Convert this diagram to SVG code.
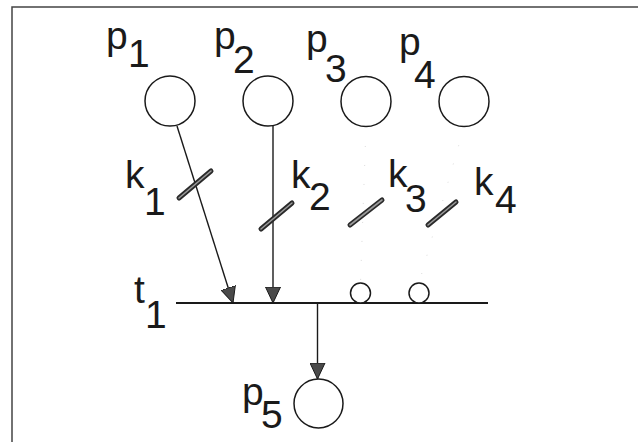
<svg xmlns="http://www.w3.org/2000/svg" width="638" height="442" viewBox="0 0 638 442">
  <style>
    .lbl { font-family: "Liberation Sans", Arial, sans-serif; font-size: 39px; fill: #1a1a1a; }
    .place { fill: #ffffff; stroke: #1a1a1a; stroke-width: 1.5; }
    .arc { stroke: #1a1a1a; stroke-width: 1.4; fill: none; }
    .faint { stroke: #dddddd; stroke-width: 1; fill: none; stroke-dasharray: 1 18; }
    .barO { stroke: #2a2a2a; stroke-width: 5; stroke-linecap: round; }
    .barI { stroke: #9a9a9a; stroke-width: 1.6; stroke-linecap: round; }
    .frame { stroke: #444; stroke-width: 1.5; fill: none; }
    .trans { stroke: #1a1a1a; stroke-width: 2.2; }
    .inh { fill: #ffffff; stroke: #1a1a1a; stroke-width: 1.5; }
  </style>
  <defs>
    <marker id="arrow" markerUnits="userSpaceOnUse" markerWidth="17" markerHeight="16" refX="16" refY="8" orient="auto">
      <path d="M0,0.5 L16,8 L0,15.5 z" fill="#4a4a4a" stroke="#1a1a1a" stroke-width="1"/>
    </marker>
  </defs>
  <rect width="638" height="442" fill="#ffffff"/>
  <path class="frame" d="M12,442 L12,7 L638,7"/>

  <g id="t1">
    <line class="trans" x1="176" y1="303" x2="488" y2="303"/>
    <text class="lbl"><tspan x="134" y="303">t</tspan><tspan x="145" y="328">1</tspan></text>
  </g>

  <g id="p1">
    <circle class="place" cx="170" cy="101" r="25"/>
    <text class="lbl"><tspan x="106" y="49">p</tspan><tspan x="128" y="67">1</tspan></text>
  </g>
  <g id="p2">
    <circle class="place" cx="268" cy="101" r="25"/>
    <text class="lbl"><tspan x="214" y="49">p</tspan><tspan x="233" y="73">2</tspan></text>
  </g>
  <g id="p3">
    <circle class="place" cx="366" cy="101.5" r="25"/>
    <text class="lbl"><tspan x="306" y="52">p</tspan><tspan x="325" y="82">3</tspan></text>
  </g>
  <g id="p4">
    <circle class="place" cx="464" cy="101.5" r="25"/>
    <text class="lbl"><tspan x="399" y="55">p</tspan><tspan x="414" y="88">4</tspan></text>
  </g>
  <g id="p5">
    <circle class="place" cx="318.5" cy="403.5" r="24.5"/>
    <text class="lbl"><tspan x="242" y="405">p</tspan><tspan x="261" y="428">5</tspan></text>
  </g>

  <g id="connectors">
    <g id="arc-p1-t1">
      <line class="arc" x1="177" y1="126" x2="233" y2="303" marker-end="url(#arrow)"/>
      <line class="barO" x1="179" y1="198" x2="211" y2="171"/>
      <line class="barI" x1="179" y1="198" x2="211" y2="171"/>
      <text class="lbl"><tspan x="125" y="188">k</tspan><tspan x="144" y="215">1</tspan></text>
    </g>
    <g id="arc-p2-t1">
      <line class="arc" x1="273" y1="126" x2="273" y2="303" marker-end="url(#arrow)"/>
      <line class="barO" x1="261" y1="229" x2="292" y2="203"/>
      <line class="barI" x1="261" y1="229" x2="292" y2="203"/>
      <text class="lbl"><tspan x="291" y="188">k</tspan><tspan x="309" y="210">2</tspan></text>
    </g>
    <g id="arc-p3-t1">
      <line class="faint" x1="366" y1="127" x2="360.5" y2="283"/>
      <line class="barO" x1="350" y1="225" x2="382" y2="200"/>
      <line class="barI" x1="350" y1="225" x2="382" y2="200"/>
      <text class="lbl"><tspan x="388" y="187">k</tspan><tspan x="405" y="212">3</tspan></text>
      <circle class="inh" cx="360.5" cy="293" r="10"/>
    </g>
    <g id="arc-p4-t1">
      <line class="faint" x1="464" y1="127" x2="419" y2="283"/>
      <line class="barO" x1="428" y1="225" x2="456" y2="202"/>
      <line class="barI" x1="428" y1="225" x2="456" y2="202"/>
      <text class="lbl"><tspan x="474" y="195">k</tspan><tspan x="495" y="213">4</tspan></text>
      <circle class="inh" cx="419" cy="293" r="10"/>
    </g>
    <g id="arc-t1-p5">
      <line class="arc" x1="317.5" y1="303" x2="317.5" y2="379" marker-end="url(#arrow)"/>
    </g>
  </g>
</svg>
